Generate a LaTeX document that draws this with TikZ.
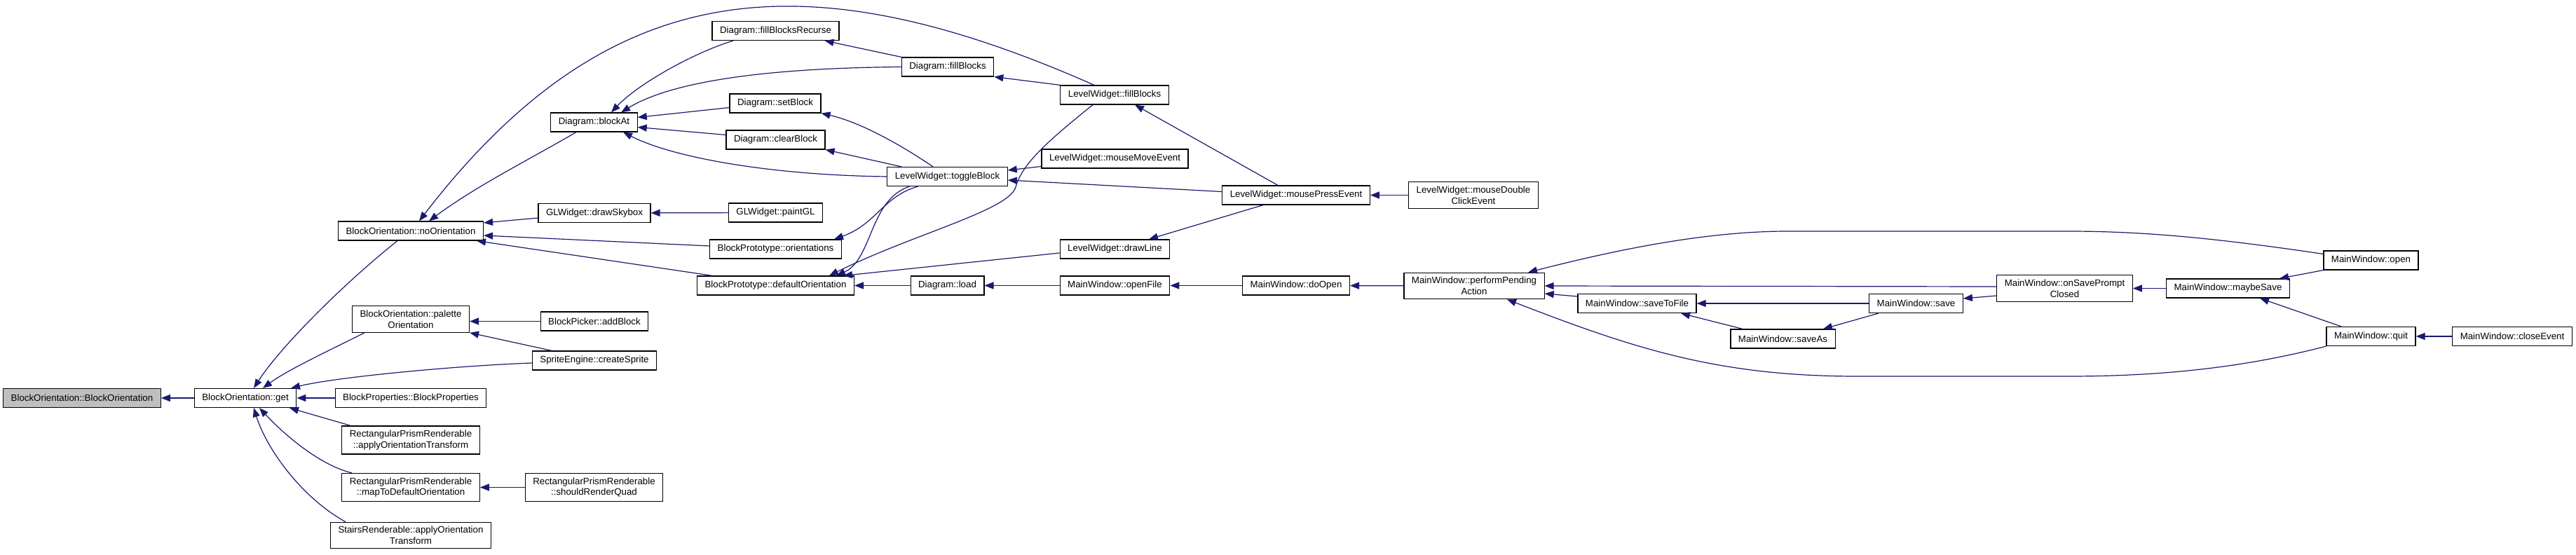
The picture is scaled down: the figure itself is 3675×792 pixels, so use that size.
\documentclass[tikz,border=0pt]{standalone}
\usepackage{fontspec}
\setmainfont{Liberation Sans}
\usepackage{xcolor}
\usetikzlibrary{arrows.meta}
\definecolor{midnight}{HTML}{191970}
\definecolor{selgray}{HTML}{BFBFBF}

\begin{document}
\begin{tikzpicture}[x=1pt, y=-1pt,
    every node/.style={font=\fontsize{13.3}{15.7}\selectfont},
    func/.style={draw, line width=1.2pt, fill=white, align=center, minimum height=27pt, inner xsep=11pt, inner ysep=6pt},
    call/.style={-{Triangle[length=13pt,width=10pt]}, draw=midnight, fill=none, line width=1.2pt},
]
\useasboundingbox (0,0) rectangle (3675,792);

% first columns
\node[func, fill=selgray] (bo) at (117,568) {BlockOrientation::BlockOrientation};
\node[func] (get) at (350,568) {BlockOrientation::get};
\node[func] (noor) at (586,329.5) {BlockOrientation::noOrientation};
\node[func] (pal) at (586,455.5) {BlockOrientation::palette\\Orientation};
\node[func] (bprop) at (586,568) {BlockProperties::BlockProperties};
\node[func] (rprapp) at (586,628) {RectangularPrismRenderable\\::applyOrientationTransform};
\node[func] (rprmap) at (586,695.5) {RectangularPrismRenderable\\::mapToDefaultOrientation};
\node[func] (stairs) at (586,764) {StairsRenderable::applyOrientation\\Transform};
\node[func] (blockat) at (847.5,174.5) {Diagram::blockAt};
\node[func] (skybox) at (848,304) {GLWidget::drawSkybox};
\node[func] (addb) at (848,458.5) {BlockPicker::addBlock};
\node[func] (sprite) at (848,514.5) {SpriteEngine::createSprite};
\node[func] (srq) at (847.5,695.5) {RectangularPrismRenderable\\::shouldRenderQuad};

% Diagram / BlockPrototype
\node[func] (fbr) at (1106.5,44) {Diagram::fillBlocksRecurse};
\node[func] (setb) at (1106,147.5) {Diagram::setBlock};
\node[func] (clearb) at (1106.5,199.5) {Diagram::clearBlock};
\node[func] (paintgl) at (1106.5,303.5) {GLWidget::paintGL};
\node[func] (orient) at (1106.5,355.5) {BlockPrototype::orientations};
\node[func] (defor) at (1106.5,407.5) {BlockPrototype::defaultOrientation};
\node[func] (dfill) at (1352,95.5) {Diagram::fillBlocks};
\node[func] (toggle) at (1351.5,252) {LevelWidget::toggleBlock};
\node[func] (dload) at (1351.5,407.5) {Diagram::load};

% LevelWidget
\node[func] (lfill) at (1590,135.5) {LevelWidget::fillBlocks};
\node[func] (mmove) at (1590.5,226.5) {LevelWidget::mouseMoveEvent};
\node[func] (drawl) at (1590.5,355.5) {LevelWidget::drawLine};
\node[func] (openf) at (1590.5,407.5) {MainWindow::openFile};
\node[func] (mpress) at (1849,278.5) {LevelWidget::mousePressEvent};
\node[func] (doopen) at (1849,407.5) {MainWindow::doOpen};
\node[func] (mdbl) at (2102,278.5) {LevelWidget::mouseDouble\\ClickEvent};

% MainWindow
\node[func] (ppa) at (2103,408) {MainWindow::performPending\\Action};
\node[func] (s2f) at (2335.5,433) {MainWindow::saveToFile};
\node[func] (saveas) at (2543.5,483.5) {MainWindow::saveAs};
\node[func] (save) at (2733.5,433) {MainWindow::save};
\node[func] (ospc) at (2945.5,411.5) {MainWindow::onSavePrompt\\Closed};
\node[func] (maybe) at (3178.5,411.5) {MainWindow::maybeSave};
\node[func] (open) at (3382.5,371.5) {MainWindow::open};
\node[func] (quit) at (3382.5,480) {MainWindow::quit};
\node[func] (close) at (3584,480) {MainWindow::closeEvent};

% calls into BlockOrientation
\draw[call] (get) -- (bo);
\draw[call] ([xshift=-19pt]noor.south) .. controls (490,405) and (400,495) .. ([xshift=12pt]get.north);
\draw[call] ([xshift=-66pt]pal.south) .. controls (470,500) and (410,528) .. ([xshift=25pt]get.north);
\draw[call] ([yshift=-3.5pt]sprite.west) .. controls (650,522) and (480,538) .. ([xshift=65pt]get.north);
\draw[call] (bprop) -- (get);
\draw[call] ([xshift=-86pt]rprapp.north) -- ([xshift=63pt]get.south);
\draw[call] ([xshift=-84pt]rprmap.north) .. controls (460,665) and (410,625) .. ([xshift=20pt]get.south);
\draw[call] ([xshift=-93pt]stairs.north) .. controls (430,710) and (380,640) .. ([xshift=12pt]get.south);
\draw[call] (srq) -- (rprmap);
\draw[call] (addb.west) -- (addb.west -| pal.east);
\draw[call] ([xshift=-61pt]sprite.north) -- (pal.south east);
\draw[call] ([xshift=-25.5pt]blockat.south) .. controls (760,225) and (680,265) .. ([xshift=26pt]noor.north);
\draw[call] ([xshift=-29pt]lfill.north) .. controls (1150,-60) and (870,-38) .. ([xshift=12pt]noor.north);
\draw[call] ([yshift=-7pt]skybox.west) -- ([yshift=11.5pt]noor.east);
\draw[call] ([yshift=4.5pt]orient.west) -- ([yshift=-6.5pt]noor.east);
\draw[call] ([xshift=-90.5pt]defor.north) -- ([xshift=94pt]noor.south);
\draw[call] (paintgl) -- (skybox);

% calls into Diagram
\draw[call] ([xshift=-60.5pt]fbr.south) .. controls (990,75) and (910,120) .. ([xshift=24.5pt]blockat.north);
\draw[call] (dfill.west) .. controls (1100,97) and (960,115) .. ([xshift=38.5pt]blockat.north);
\draw[call] ([yshift=-6pt]setb.west) -- ([yshift=7pt]blockat.east);
\draw[call] ([yshift=7pt]clearb.west) -- ([yshift=-7pt]blockat.east);
\draw[call] (toggle.west) .. controls (1100,250) and (960,225) .. ([xshift=41.5pt]blockat.south);
\draw[call] (dfill.north west) -- ([xshift=70pt]fbr.south);
\draw[call] (lfill.north west) -- (dfill.south east);
\draw[call] ([xshift=-20.5pt]toggle.north) .. controls (1290,210) and (1230,175) .. (setb.south east);
\draw[call] ([xshift=-65.5pt]toggle.north) -- (clearb.south east);
\draw[call] ([xshift=-42pt]toggle.south) .. controls (1260,280) and (1250,320) .. ([xshift=83.5pt]orient.north);
\draw[call] ([xshift=-54pt]toggle.south) .. controls (1240,285) and (1245,370) .. ([xshift=86.5pt]defor.north);
\draw[call] ([xshift=-31pt]lfill.south) .. controls (1490,205) and (1458,235) .. (1449,267)
    .. controls (1440,300) and (1300,335) .. ([xshift=76.5pt]defor.north);
\draw[call] ([yshift=-5.5pt]drawl.west) -- ([xshift=96.5pt]defor.north);
\draw[call] (dload) -- (defor);

% LevelWidget events
\draw[call] ([yshift=-11pt]mmove.west) -- ([yshift=9pt]toggle.east);
\draw[call] ([yshift=5pt]mpress.west) -- ([yshift=-5pt]toggle.east);
\draw[call] ([xshift=-26pt]mpress.north) -- ([xshift=29pt]lfill.south);
\draw[call] ([xshift=-47pt]mpress.south) -- ([xshift=48.5pt]drawl.north);
\draw[call] (mdbl) -- (mpress);
\draw[call] (openf) -- (dload);
\draw[call] (doopen) -- (openf);
\draw[call] (ppa) -- (doopen);

% MainWindow
\draw[call] ([yshift=9pt]open.west) .. controls (3150,338) and (3050,330) .. (2950,330) -- (2550,330)
    .. controls (2430,330) and (2300,358) .. ([xshift=77pt]ppa.north);
\draw[call] ([yshift=2.5pt]ospc.west) -- (ppa.east);
\draw[call] ([yshift=10pt]s2f.west) -- ([yshift=-11pt]ppa.east);
\draw[call] (quit.south west) .. controls (3200,525) and (3080,537) .. (2950,537) -- (2650,537)
    .. controls (2450,537) and (2330,497) .. ([xshift=47pt]ppa.south);
\draw[call] (save) -- (s2f);
\draw[call] ([xshift=-57.5pt]saveas.north) -- ([xshift=62.5pt]s2f.south);
\draw[call] ([xshift=-53.5pt]save.south) -- ([xshift=57.5pt]saveas.north);
\draw[call] ([yshift=-10.5pt]ospc.west) -- ([yshift=7pt]save.east);
\draw[call] (maybe) -- (ospc);
\draw[call] (open.south west) -- ([xshift=73.5pt]maybe.north);
\draw[call] ([xshift=-42.5pt]quit.north) -- ([xshift=45.5pt]maybe.south);
\draw[call] (close) -- (quit);

\end{tikzpicture}
\end{document}
